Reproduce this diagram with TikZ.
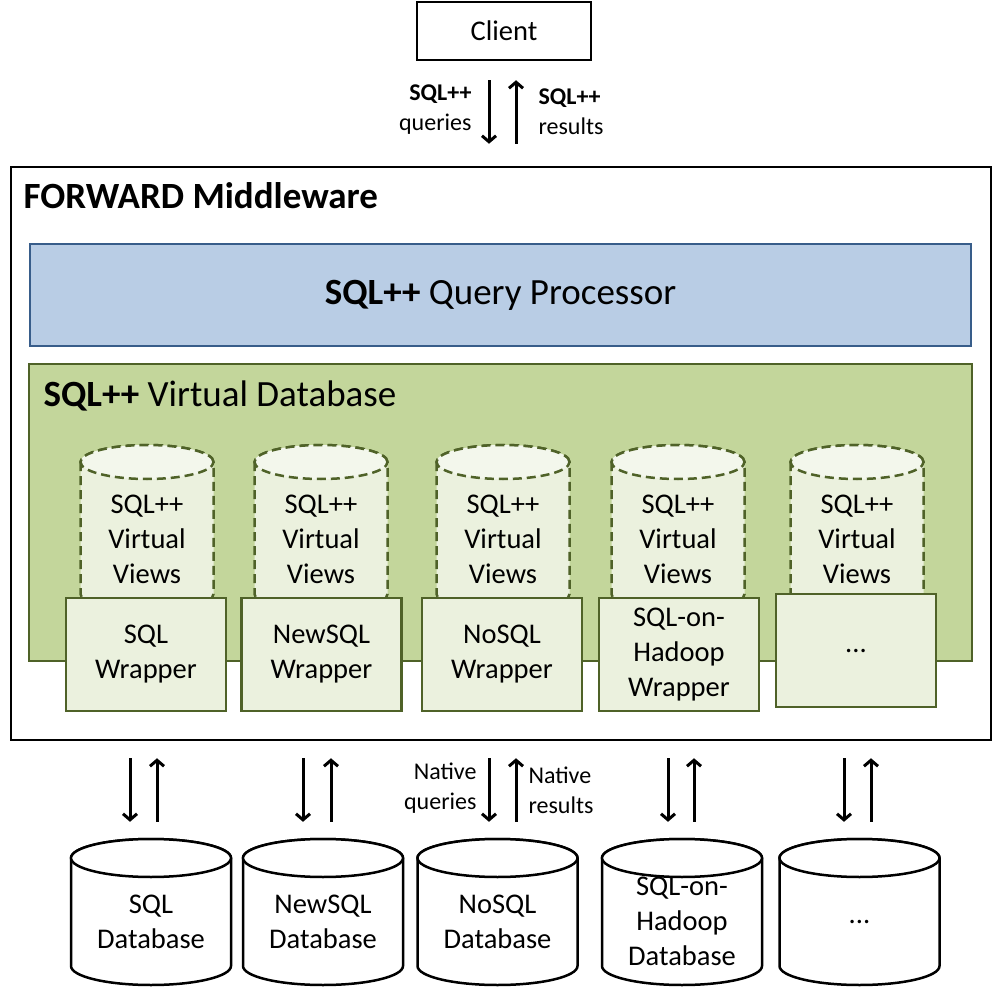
\documentclass[tikz,border=0pt]{standalone}
\usepackage{fontspec}
\setmainfont{Carlito}
\usetikzlibrary{arrows.meta}
\definecolor{qpfill}{HTML}{B9CDE5}
\definecolor{qpline}{HTML}{385D8A}
\definecolor{vdbfill}{HTML}{C3D69B}
\definecolor{vdbline}{HTML}{4F6228}
\definecolor{wrapfill}{HTML}{EBF1DE}
\definecolor{vvtop}{HTML}{F3F7EC}
% drum: x, y of top ellipse centre, rx, ry, y of bottom ellipse centre, style, top fill
\newcommand\drum[7]{%
  \path[#6] (#1-#3,#2) -- (#1-#3,#5) arc[start angle=180,end angle=360,x radius=#3pt,y radius=#4pt]
    -- (#1+#3,#2) arc[start angle=0,end angle=180,x radius=#3pt,y radius=#4pt] -- cycle;
  \path[#6,fill=#7] (#1,#2) ellipse[x radius=#3pt,y radius=#4pt];}
\begin{document}
\begin{tikzpicture}[x=1pt,y=-1pt,
  txt/.style={font=\fontsize{28.5}{35}\selectfont,align=center},
  lbl/.style={font=\fontsize{24}{30}\selectfont},
  big/.style={font=\fontsize{37}{44}\selectfont},
  box/.style={draw,line width=2.5pt,inner sep=0pt},
  wrap/.style={txt,draw=vdbline,fill=wrapfill,line width=2.5pt,inner sep=0pt,
    minimum width=160pt,minimum height=113pt},
  vvline/.style={draw=vdbline,fill=wrapfill,line width=2.5pt,dash pattern=on 9pt off 5pt},
  dbline/.style={draw,fill=white,line width=2.5pt},
  vv/.style={txt,inner sep=0pt,minimum width=133pt,minimum height=154pt},
  db/.style={txt,inner sep=0pt,minimum width=160pt,minimum height=127pt},
  dn/.style={-{Straight Barb[length=6pt,width=14pt]},line width=3pt},
  up/.style={dn}]
\fill[white] (0,0) rectangle (994,992);
\useasboundingbox (0,0) rectangle (994,992);
% client and middleware
\node[box,txt,minimum width=174pt,minimum height=58pt] (client) at (504,31) {Client};
\node[box,minimum width=980pt,minimum height=573pt] (mw) at (501,453.5) {};
\node[big,anchor=west] (mwtitle) at (20,196) {\textbf{FORWARD Middleware}};
\node[big,draw=qpline,fill=qpfill,line width=2pt,minimum width=941pt,minimum height=102pt] (qp) at (500.5,295.5) {\textbf{SQL++} Query Processor};
\node[draw=vdbline,fill=vdbfill,line width=2.5pt,minimum width=943pt,minimum height=297pt] (vdb) at (500.5,512.5) {};
\node[big,anchor=west] (vdbtitle) at (40,396) {\textbf{SQL++} Virtual Database};
% virtual views
\drum{147}{462}{66.5}{17}{594}{vvline}{vvtop}
\node[vv] (vv1) at (147,539) {SQL++\\Virtual\\Views};
\drum{321}{462}{66.5}{17}{594}{vvline}{vvtop}
\node[vv] (vv2) at (321,539) {SQL++\\Virtual\\Views};
\drum{503}{462}{66.5}{17}{594}{vvline}{vvtop}
\node[vv] (vv3) at (503,539) {SQL++\\Virtual\\Views};
\drum{678}{462}{66.5}{17}{594}{vvline}{vvtop}
\node[vv] (vv4) at (678,539) {SQL++\\Virtual\\Views};
\drum{857}{462}{66.5}{17}{594}{vvline}{vvtop}
\node[vv] (vv5) at (857,539) {SQL++\\Virtual\\Views};
% wrappers
\node[wrap] (w1) at (146,654.5) {SQL\\Wrapper};
\node[wrap] (w2) at (321.5,654.5) {NewSQL\\Wrapper};
\node[wrap] (w3) at (502,654.5) {NoSQL\\Wrapper};
\node[wrap] (w4) at (679,654.5) {SQL-on-\\Hadoop\\Wrapper};
\node[wrap] (w5) at (856,650.5) {...};
% databases
\drum{151}{858}{80}{19}{966}{dbline}{white}
\node[db] (db1) at (151,921.5) {SQL\\Database};
\drum{323}{858}{80}{19}{966}{dbline}{white}
\node[db] (db2) at (323,921.5) {NewSQL\\Database};
\drum{497.5}{858}{80}{19}{966}{dbline}{white}
\node[db] (db3) at (497.5,921.5) {NoSQL\\Database};
\drum{682}{858}{80}{19}{966}{dbline}{white}
\node[db] (db4) at (682,921.5) {SQL-on-\\Hadoop\\Database};
\drum{859.5}{858}{80}{19}{966}{dbline}{white}
\node[db] (db5) at (859.5,921.5) {...};
% client arrows
\draw[dn,shorten <=19pt,shorten >=22pt] ([xshift=-15pt]client.south) -- ([xshift=-15pt]client.south |- mw.north);
\draw[up,shorten <=22pt,shorten >=19pt] ([xshift=12pt]client.south |- mw.north) -- ([xshift=12pt]client.south);
\node[lbl,align=right,anchor=east] (qlbl) at (475,110) {\textbf{SQL++}\\queries};
\node[lbl,align=left,anchor=west] (rlbl) at (535,112) {\textbf{SQL++}\\results};
% native arrows
\draw[dn,shorten <=17pt,shorten >=36pt] ([xshift=-21pt]db1.north |- mw.south) -- ([xshift=-21pt]db1.north);
\draw[up,shorten <=36pt,shorten >=17pt] ([xshift=6pt]db1.north) -- ([xshift=6pt]db1.north |- mw.south);
\draw[dn,shorten <=17pt,shorten >=36pt] ([xshift=-20pt]db2.north |- mw.south) -- ([xshift=-20pt]db2.north);
\draw[up,shorten <=36pt,shorten >=17pt] ([xshift=8pt]db2.north) -- ([xshift=8pt]db2.north |- mw.south);
\draw[dn,shorten <=17pt,shorten >=36pt] ([xshift=-8.5pt]db3.north |- mw.south) -- ([xshift=-8.5pt]db3.north);
\draw[up,shorten <=36pt,shorten >=17pt] ([xshift=18.5pt]db3.north) -- ([xshift=18.5pt]db3.north |- mw.south);
\draw[dn,shorten <=17pt,shorten >=36pt] ([xshift=-14pt]db4.north |- mw.south) -- ([xshift=-14pt]db4.north);
\draw[up,shorten <=36pt,shorten >=17pt] ([xshift=12pt]db4.north) -- ([xshift=12pt]db4.north |- mw.south);
\draw[dn,shorten <=17pt,shorten >=36pt] ([xshift=-15.5pt]db5.north |- mw.south) -- ([xshift=-15.5pt]db5.north);
\draw[up,shorten <=36pt,shorten >=17pt] ([xshift=11.5pt]db5.north) -- ([xshift=11.5pt]db5.north |- mw.south);
\node[lbl,align=right,anchor=east] (nqlbl) at (480,788) {Native\\queries};
\node[lbl,align=left,anchor=west] (nrlbl) at (525,790) {Native\\results};
\end{tikzpicture}
\end{document}
